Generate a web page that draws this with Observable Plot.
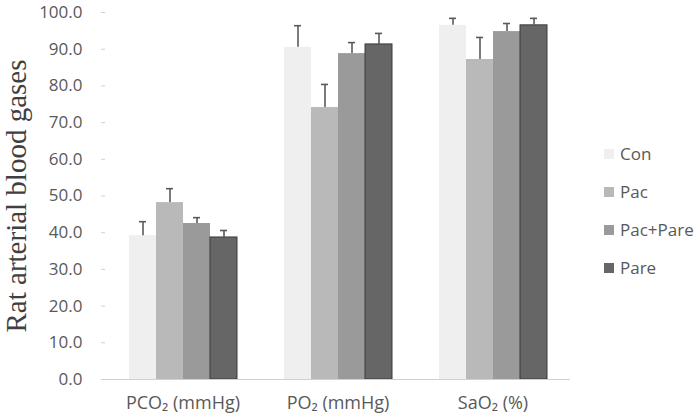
<!DOCTYPE html>
<html><head><meta charset="utf-8">
<script src="https://cdn.jsdelivr.net/npm/d3@7"></script>
<script src="https://cdn.jsdelivr.net/npm/@observablehq/plot@0.6"></script>
<style>
body{margin:0;background:#fff;}
#wrap{position:relative;width:700px;height:420px;}
#ytitle{position:absolute;left:16px;top:196px;transform:translate(-50%,-50%) rotate(-90deg);font-family:"Liberation Serif","Times New Roman",serif;font-size:29px;color:#404040;white-space:nowrap;}
#legend{position:absolute;left:604px;top:142px;font-family:"Open Sans",sans-serif;font-size:17px;color:#595959;}
#legend div{height:38px;display:flex;align-items:flex-start;}
#legend span.sw{display:inline-block;width:10px;height:10px;margin-right:6px;margin-top:7px;}
</style></head>
<body><div id="wrap"><div id="chart"></div><div id="ytitle">Rat arterial blood gases</div><div id="legend"></div></div>
<script>
const categories = ["PCO₂ (mmHg)", "PO₂ (mmHg)", "SaO₂ (%)"];
const groups = ["Con", "Pac", "Pac+Pare", "Pare"];
const colors = ["#efefef", "#b9b9b9", "#9a9a9a", "#666666"];
const conVals = [39.2, 90.5, 96.5];
const pacVals = [48.2, 74.1, 87.2];
const pacPareVals = [42.5, 88.8, 94.8];
const pareVals = [38.7, 91.3, 96.5];
const conErr = [3.8, 5.9, 1.9];
const pacErr = [3.8, 6.3, 6.0];
const pacPareErr = [1.6, 3.0, 2.2];
const pareErr = [1.9, 3.0, 1.9];
const yTicks = [0, 10, 20, 30, 40, 50, 60, 70, 80, 90, 100];

const vals = [conVals, pacVals, pacPareVals, pareVals];
const errs = [conErr, pacErr, pacPareErr, pareErr];
const data = [];
categories.forEach((c, i) => groups.forEach((g, j) => data.push({cat: c, group: g, value: vals[j][i], err: errs[j][i]})));

const chart = Plot.plot({
  width: 700, height: 420,
  marginLeft: 105, marginRight: 130, marginTop: 12, marginBottom: 41,
  style: {fontFamily: "'Open Sans', sans-serif", fontSize: "17px", color: "#595959", background: "#fff"},
  fx: {domain: categories, padding: 0, label: null},
  x: {domain: groups, paddingInner: 0, paddingOuter: 0.768, axis: null},
  y: {domain: [0, 100], label: null},
  color: {domain: groups, range: colors},
  marks: [
    Plot.axisY({ticks: yTicks, tickFormat: d => d.toFixed(1), tickSize: 4, tickPadding: 19, stroke: "#d0d0d0", fill: "#595959", label: null}),
    Plot.ruleX([0], {frameAnchor: "left", y: 0, facet: "exclude", stroke: "#d0d0d0"}),
    Plot.axisFx({anchor: "bottom", tickSize: 0, tickPadding: 17, label: null, fill: "#595959", fontSize: 18, style: "letter-spacing:0.8px"}),
    Plot.barY(data, {fx: "cat", x: "group", y: "value", fill: "group", stroke: d => d.group === "Pare" ? "#3a3a3a" : "none", strokeWidth: 1}),
    Plot.ruleX(data, {fx: "cat", x: "group", y1: "value", y2: d => d.value + d.err, stroke: "#5a5a5a", strokeWidth: 1.6}),
    Plot.tickY(data, {fx: "cat", x: "group", y: d => d.value + d.err, stroke: "#5a5a5a", strokeWidth: 1.6, insetLeft: 10, insetRight: 10}),
    Plot.ruleY([0], {stroke: "#d0d0d0"}),
    Plot.ruleX(categories, {fx: d => d, frameAnchor: "left", y1: 0, y2: 0, insetBottom: -5, stroke: "#d0d0d0"}),
    Plot.ruleX(categories, {fx: d => d, frameAnchor: "right", y1: 0, y2: 0, insetBottom: -5, stroke: "#d0d0d0"})
  ]
});
document.getElementById("chart").appendChild(chart);

const leg = document.getElementById("legend");
groups.forEach((g, i) => {
  const row = document.createElement("div");
  row.innerHTML = `<span class="sw" style="background:${colors[i]}"></span><span>${g}</span>`;
  leg.appendChild(row);
});
</script></body></html>
